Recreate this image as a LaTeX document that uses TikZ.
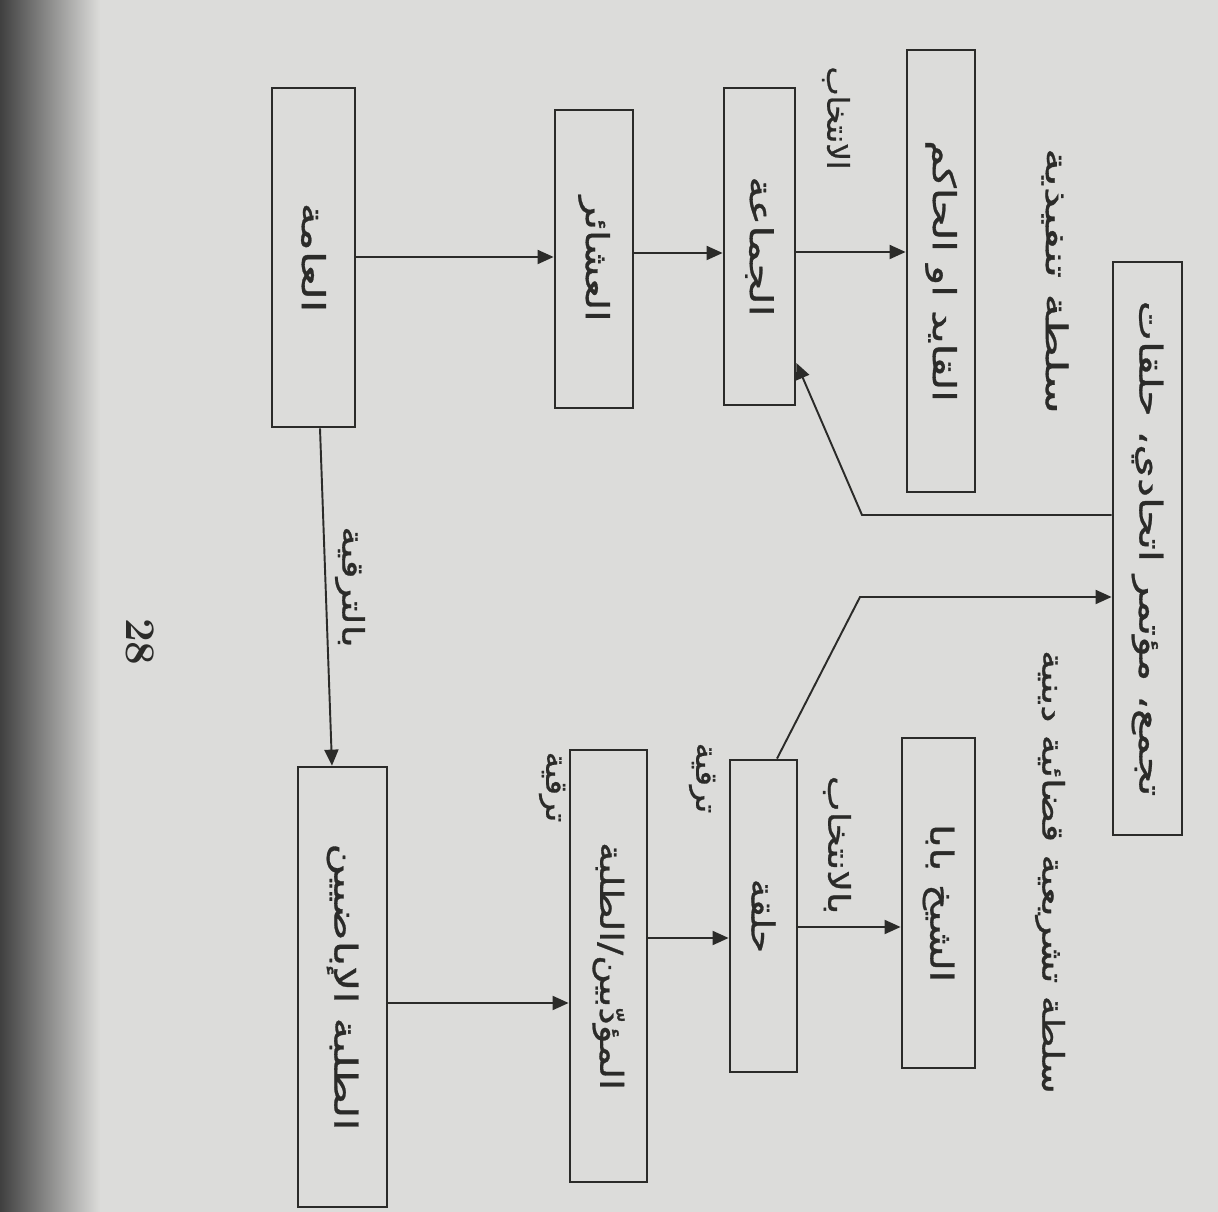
\documentclass[tikz,border=0pt]{standalone}
\usepackage{fontspec}
\usetikzlibrary{arrows.meta}
\TeXXeTstate=1
\newfontfamily\arabicfont[Script=Arabic, FakeBold=0.8]{DejaVu Sans}
\definecolor{pagebg}{HTML}{DCDCDA}
\definecolor{ink}{HTML}{2B2B29}
\newcommand{\artxt}[2][1]{\rotatebox{-90}{\scalebox{#1}[1]{\arabicfont\beginR #2\endR}}}
\begin{document}
\begin{tikzpicture}[x=0.02cm, y=-0.02cm,
  box/.style={draw=ink, line width=1.6pt, inner sep=0pt, text=ink, font=\fontsize{18}{21}\selectfont},
  lbl/.style={inner sep=0pt, text=ink, font=\fontsize{17}{20}\selectfont},
  arr/.style={draw=ink, line width=1.1pt, -{Triangle[length=0.32cm,width=0.28cm]}},
  ln/.style={draw=ink, line width=1.1pt}]
\fill[pagebg] (0,0) rectangle (1218,1212);
\shade[left color=black!75, right color=pagebg] (0,0) rectangle (100,1212);
\useasboundingbox (0,0) rectangle (1218,1212);

% boxes
\node[box, minimum width=1.38cm, minimum height=11.46cm] (halaqat) at (1147.5,548.5) {\artxt[1.36]{تجمع، مؤتمر اتحادي، حلقات}};
\node[box, minimum width=1.36cm, minimum height=8.84cm] (qaid) at (941,271) {\artxt[1.32]{القايد او الحاكم}};
\node[box, minimum width=1.42cm, minimum height=6.34cm] (jamaa) at (759.5,246.5) {\artxt[1.37]{الجماعة}};
\node[box, minimum width=1.56cm, minimum height=5.96cm] (ashair) at (594,259) {\artxt[1.28]{العشائر}};
\node[box, minimum width=1.66cm, minimum height=6.78cm] (amma) at (313.5,257.5) {\artxt[1.42]{العامة}};
\node[box, minimum width=1.46cm, minimum height=6.6cm] (shaykh) at (938.5,903) {\artxt[1.28]{الشيخ بابا}};
\node[box, minimum width=1.34cm, minimum height=6.24cm] (halqa) at (763.5,916) {\artxt[1.18]{حلقة}};
\node[box, minimum width=1.54cm, minimum height=8.64cm] (muaddib) at (608.5,966) {\artxt[1.23]{المؤدّبين/الطلبة}};
\node[box, minimum width=1.78cm, minimum height=8.8cm] (talaba) at (342.5,987) {\artxt[1.39]{الطلبة الإباضيين}};

% labels
\node[lbl] (sulta1) at (1055,281) {\artxt[1.6]{سلطة تنفيذية}};
\node[lbl] (sulta2) at (1050,872) {\artxt[1.3]{سلطة تشريعية قضائية دينية}};
\node[lbl] (intikhab) at (836,118) {\artxt[1.04]{الانتخاب}};
\node[lbl] (bitarqiya) at (350,587) {\artxt[1.33]{بالترقية}};
\node[lbl] (tarqiya1) at (552,787) {\artxt[1.1]{ترقية}};
\node[lbl] (tarqiya2) at (702,778) {\artxt[1.1]{ترقية}};
\node[lbl] (bilintikhab) at (837,845) {\artxt[1.28]{بالانتخاب}};
\node[inner sep=0pt, text=ink] (page) at (140,642) {\rotatebox{-90}{\fontsize{24}{27}\selectfont\bfseries 28}};

% helper coordinates
\coordinate (y257) at (0,257);
\coordinate (y253) at (0,253);
\coordinate (y252) at (0,252);
\coordinate (y1003) at (0,1003);
\coordinate (y938) at (0,938);
\coordinate (y927) at (0,927);
\coordinate (y597) at (0,597);
\coordinate (y515) at (0,515);
\coordinate (y363) at (0,363);
\coordinate (k1) at (860,597);
\coordinate (k2) at (862,515);

% connectors
\draw[arr] (amma.east |- y257) -- (ashair.west |- y257);
\draw[arr] (ashair.east |- y253) -- (jamaa.west |- y253);
\draw[arr] (jamaa.east |- y252) -- (qaid.west |- y252);
\draw[arr] ([xshift=0.13cm]amma.south) -- ([xshift=-0.21cm]talaba.north);
\draw[arr] (talaba.east |- y1003) -- (muaddib.west |- y1003);
\draw[arr] (muaddib.east |- y938) -- (halqa.west |- y938);
\draw[arr] (halqa.east |- y927) -- (shaykh.west |- y927);
\draw[arr] ([xshift=0.27cm]halqa.north) -- (k1) -- (halaqat.west |- y597);
\draw[arr] (halaqat.west |- y515) -- (k2) -- (jamaa.east |- y363);
\end{tikzpicture}
\end{document}
